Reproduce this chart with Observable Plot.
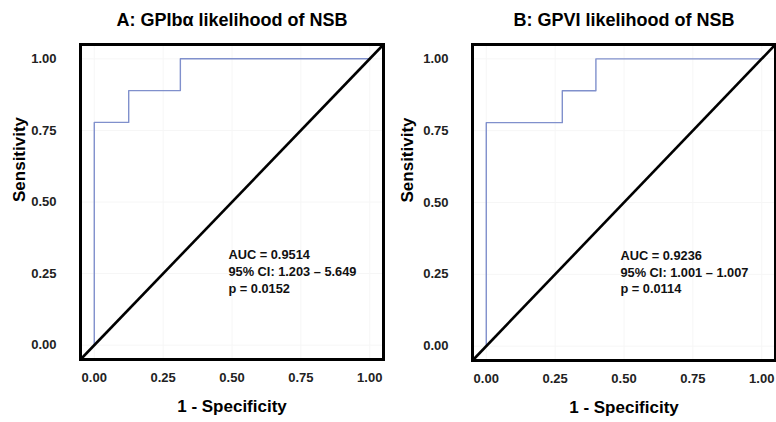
<!DOCTYPE html>
<html>
<head>
<meta charset="utf-8">
<script src="https://cdn.jsdelivr.net/npm/d3@7"></script>
<script src="https://cdn.jsdelivr.net/npm/@observablehq/plot@0.6"></script>
<style>
  html, body { margin: 0; padding: 0; background: #fff; }
  #wrap { display: flex; width: 776px; height: 422px; }
  svg { font-family: "Liberation Sans", Arial, sans-serif; }
</style>
</head>
<body>
<div id="wrap"></div>
<script>
// Panel titles
const titles = ["A: GPIbα likelihood of NSB", "B: GPVI likelihood of NSB"];
// ROC points (1 - specificity, sensitivity)
const rocAx = [0, 0, 0.125, 0.3125, 1];
const rocAy = [0, 0.778, 0.889, 1, 1];
const rocBx = [0, 0, 0.276, 0.398, 1];
const rocBy = [0, 0.778, 0.889, 1, 1];
// Annotations
const notesA = ["AUC = 0.9514", "95% CI: 1.203 – 5.649", "p = 0.0152"];
const notesB = ["AUC = 0.9236", "95% CI: 1.001 – 1.007", "p = 0.0114"];
// Axis ticks and domain
const ticks = [0, 0.25, 0.5, 0.75, 1];
const domain = [-0.05, 1.05];

function panel(title, xs, ys, notes, opts) {
  const roc = xs.map((x, i) => ({x, y: ys[i]}));
  return Plot.plot({
    width: 388,
    height: 422,
    marginLeft: opts.ml,
    marginRight: opts.mr,
    marginTop: 44,
    marginBottom: opts.mb,
    style: {fontFamily: "'Liberation Sans', Arial, sans-serif", background: "#fff"},
    x: {domain, axis: null},
    y: {domain, axis: null},
    marks: [
      Plot.gridX(ticks, {stroke: "#f6f6f6", strokeOpacity: 1}),
      Plot.gridY(ticks, {stroke: "#f6f6f6", strokeOpacity: 1}),
      Plot.line(roc, {x: "x", y: "y", curve: "step-after", stroke: "#8090cc", strokeWidth: 1.4}),
      Plot.link([domain], {x1: d => d[0], y1: d => d[0], x2: d => d[1], y2: d => d[1], stroke: "#000", strokeWidth: 2.6}),
      Plot.frame({stroke: "#000", strokeWidth: 3}),
      Plot.text([notes.join("\n")], {x: 0.487, y: 0.26, text: d => d, textAnchor: "start", lineAnchor: "middle",
        lineHeight: 1.3, fontSize: 12.8, fontWeight: "bold", fill: "#111"}),
      Plot.text([title], {frameAnchor: "top", lineAnchor: "middle", dy: -24, fontSize: 18, fontWeight: "bold",
        fill: "#000", style: "letter-spacing: 0.5px"}),
      Plot.text(ticks, {x: d => d, frameAnchor: "bottom", lineAnchor: "middle", dy: 18, text: d3.format(".2f"),
        fontSize: 13, fontWeight: "bold", fill: "#222"}),
      Plot.text(ticks, {y: d => d, frameAnchor: "left", textAnchor: "end", dx: -24, text: d3.format(".2f"),
        fontSize: 13, fontWeight: "bold", fill: "#222"}),
      Plot.text(["1 - Specificity"], {frameAnchor: "bottom", lineAnchor: "middle", dy: 47, fontSize: 17,
        fontWeight: "bold", fill: "#000"}),
      Plot.text(["Sensitivity"], {frameAnchor: "left", rotate: -90, dx: -opts.lo, fontSize: 17,
        fontWeight: "bold", fill: "#000"})
    ]
  });
}

const wrap = document.getElementById("wrap");
const a = panel(titles[0], rocAx, rocAy, notesA, {ml: 80, mr: 5, mb: 63, lo: 61});
const b = panel(titles[1], rocBx, rocBy, notesB, {ml: 84, mr: 1, mb: 62, lo: 65});
wrap.appendChild(a);
wrap.appendChild(b);
</script>
</body>
</html>
